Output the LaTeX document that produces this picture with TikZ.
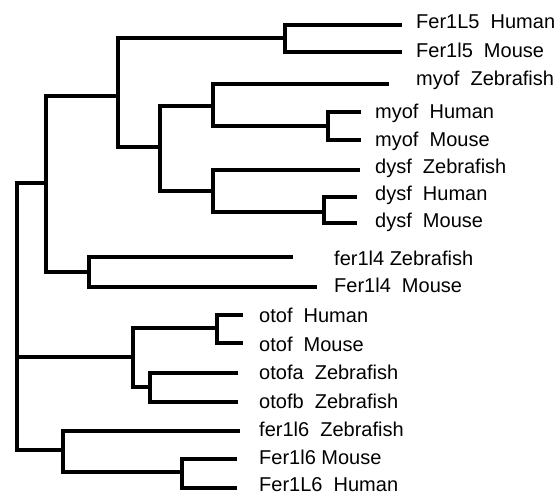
\documentclass[tikz,border=0pt]{standalone}
\usepackage{fontspec}
\setmainfont{Liberation Sans}
\begin{document}
\begin{tikzpicture}[x=1pt,y=-1pt,
  branch/.style={line width=4.3pt, line join=miter},
  lbl/.style={anchor=base west, inner sep=0pt, font=\fontsize{20}{22}\selectfont}]
\useasboundingbox (0,0) rectangle (559,495);

% internal nodes of the tree (x of the split, y where the parent edge arrives)
\coordinate (root) at (17,357);
\coordinate (nA) at (46,183);
\coordinate (nB) at (118,96);
\coordinate (nC) at (285,38);
\coordinate (nD) at (160,147);
\coordinate (nE) at (213,106);
\coordinate (nF) at (328,126);
\coordinate (nG) at (213,191);
\coordinate (nH) at (324,212);
\coordinate (nI) at (89,272);
\coordinate (nJ) at (133,357);
\coordinate (nK) at (217,328);
\coordinate (nL) at (150,387);
\coordinate (nM) at (63,450);
\coordinate (nN) at (182,472);

% branch tips
\coordinate (t1) at (402,25);
\coordinate (t2) at (402,52);
\coordinate (t3) at (389,84);
\coordinate (t4) at (361,112);
\coordinate (t5) at (361,140);
\coordinate (t6) at (360,170);
\coordinate (t7) at (357,197);
\coordinate (t8) at (357,223);
\coordinate (t9) at (293,257);
\coordinate (t10) at (317,287);
\coordinate (t11) at (243,315);
\coordinate (t12) at (243,343);
\coordinate (t13) at (238,373);
\coordinate (t14) at (238,402);
\coordinate (t15) at (240,431);
\coordinate (t16) at (237,459);
\coordinate (t17) at (237,488);

% elbow branches
\foreach \p/\c in {root/nA, root/nJ, root/nM,
                   nA/nB, nA/nI, nB/nC, nB/nD, nC/t1, nC/t2,
                   nD/nE, nD/nG, nE/t3, nE/nF, nF/t4, nF/t5,
                   nG/t6, nG/nH, nH/t7, nH/t8, nI/t9, nI/t10,
                   nJ/nK, nJ/nL, nK/t11, nK/t12, nL/t13, nL/t14,
                   nM/t15, nM/nN, nN/t16, nN/t17}
  \draw[branch] (\p) |- (\c);

% leaf labels
\node[lbl] (l1) at (416,29) {Fer1L5~~Human};
\node[lbl] (l2) at (416,57) {Fer1l5~~Mouse};
\node[lbl] (l3) at (416,85) {myof~~Zebrafish};
\node[lbl] (l4) at (375,118) {myof~~Human};
\node[lbl] (l5) at (375,146) {myof~~Mouse};
\node[lbl] (l6) at (375,173) {dysf~~Zebrafish};
\node[lbl] (l7) at (375,200) {dysf~~Human};
\node[lbl] (l8) at (375,227) {dysf~~Mouse};
\node[lbl] (l9) at (334,265) {fer1l4 Zebrafish};
\node[lbl] (l10) at (334,292) {Fer1l4~~Mouse};
\node[lbl] (l11) at (259,322) {otof~~Human};
\node[lbl] (l12) at (259,351) {otof~~Mouse};
\node[lbl] (l13) at (259,379) {otofa~~Zebrafish};
\node[lbl] (l14) at (259,408) {otofb~~Zebrafish};
\node[lbl] (l15) at (259,436) {fer1l6~~Zebrafish};
\node[lbl] (l16) at (259,464) {Fer1l6 Mouse};
\node[lbl] (l17) at (259,491) {Fer1L6~~Human};
\end{tikzpicture}
\end{document}
